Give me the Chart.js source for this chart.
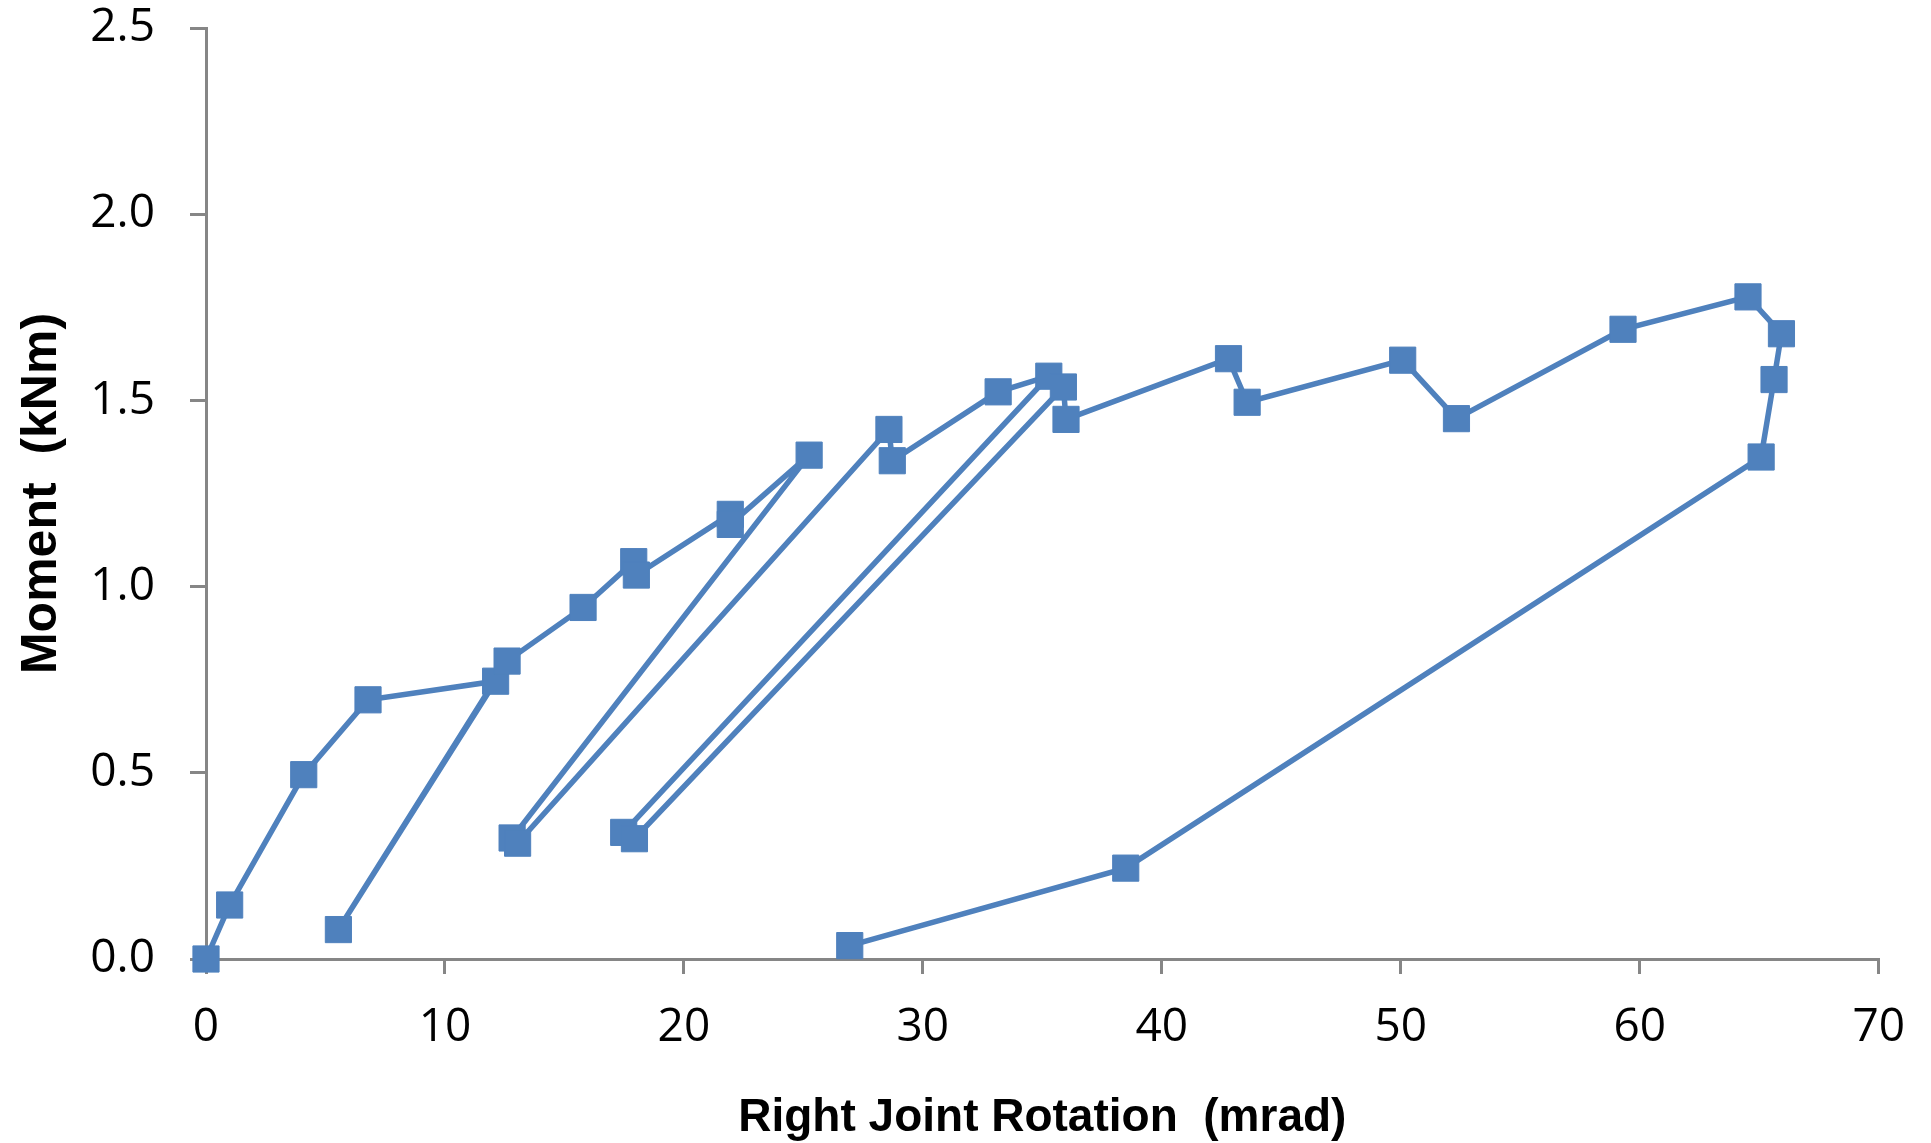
<!DOCTYPE html>
<html>
<head>
<meta charset="utf-8">
<script src="https://cdn.jsdelivr.net/npm/chart.js@4.4.1/dist/chart.umd.min.js"></script>
<style>
  body { margin: 0; background: #fff; }
  #wrap { width: 1931px; height: 1143px; }
</style>
</head>
<body>
<div id="wrap"><canvas id="momentChart"></canvas></div>
<script>
// rotation (mrad) and moment (kNm), in test order
const rotation = [0, 0.99, 4.09, 6.78, 12.12, 5.54, 12.6, 15.78, 17.9, 18.01, 21.94, 21.94, 25.24,
  12.81, 13.04, 28.58, 28.72, 33.15, 35.27, 17.48, 17.93, 35.88, 35.99, 42.79, 43.57,
  50.08, 52.33, 59.3, 64.53, 65.93, 65.62, 65.08, 38.49, 26.94];
const moment = [0, 0.145, 0.495, 0.696, 0.746, 0.079, 0.80, 0.944, 1.067, 1.031, 1.194, 1.167, 1.353,
  0.325, 0.311, 1.422, 1.338, 1.523, 1.565, 0.34, 0.323, 1.536, 1.449, 1.612, 1.495,
  1.608, 1.451, 1.691, 1.778, 1.679, 1.556, 1.348, 0.244, 0.036];
const xTicks = [0, 10, 20, 30, 40, 50, 60, 70];
const yTicks = [0, 0.5, 1.0, 1.5, 2.0, 2.5];

const points = rotation.map((r, i) => ({ x: r, y: moment[i] }));
const blue = '#4F81BD';
const axisGrey = '#868686';
const sansBold = "'Liberation Sans', Arial, sans-serif";

const ctx = document.getElementById('momentChart').getContext('2d');
const momentChart = new Chart(ctx, {
  type: 'scatter',
  data: {
    datasets: [{
      label: 'Moment',
      data: points,
      showLine: true,
      borderColor: blue,
      backgroundColor: blue,
      borderWidth: 5.5,
      pointStyle: 'rect',
      pointRadius: 18.5,
      pointBorderWidth: 1,
      pointBorderColor: blue,
      pointBackgroundColor: blue,
      clip: false
    }]
  },
  options: {
    responsive: true,
    maintainAspectRatio: false,
    animation: false,
    layout: { padding: { left: 0, right: 50, top: 28, bottom: 0 } },
    plugins: { legend: { display: false }, tooltip: { enabled: false } },
    scales: {
      x: {
        type: 'linear',
        min: xTicks[0],
        max: xTicks[xTicks.length - 1],
        afterBuildTicks: s => { s.ticks = xTicks.map(v => ({ value: v })); },
        afterFit: s => { s.height = 184; },
        grid: { drawOnChartArea: false, drawTicks: true, tickLength: 15, color: axisGrey, lineWidth: 3 },
        border: { display: true, color: axisGrey, width: 3 },
        ticks: {
          padding: 26,
          color: '#000',
          font: { family: 'Open Sans', size: 46 },
          maxRotation: 0
        },
        title: {
          display: true,
          text: 'Right Joint Rotation  (mrad)',
          color: '#000',
          padding: { top: 0, bottom: 2 },
          font: { family: sansBold, size: 46, weight: 'bold', lineHeight: 1 }
        }
      },
      y: {
        type: 'linear',
        min: yTicks[0],
        max: yTicks[yTicks.length - 1],
        afterBuildTicks: s => { s.ticks = yTicks.map(v => ({ value: v })); },
        afterFit: s => { s.width = 206; s.paddingTop = 0; s.paddingBottom = 0; },
        grid: { drawOnChartArea: false, drawTicks: true, tickLength: 16, color: axisGrey, lineWidth: 3 },
        border: { display: true, color: axisGrey, width: 3 },
        ticks: {
          padding: 35,
          color: '#000',
          font: { family: 'Open Sans', size: 46 },
          callback: v => Number(v).toFixed(1)
        },
        title: {
          display: true,
          text: 'Moment  (kNm)',
          color: '#000',
          padding: { top: 17, bottom: 0 },
          font: { family: sansBold, size: 50, weight: 'bold', lineHeight: 1 }
        }
      }
    }
  }
});
</script>
</body>
</html>
